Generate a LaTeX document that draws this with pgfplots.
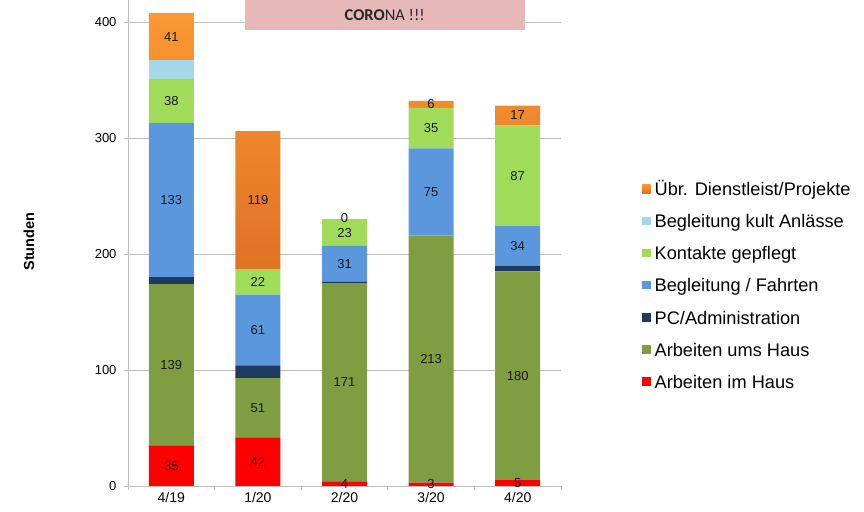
\documentclass[border=0pt]{standalone}
\usepackage{pgfplots}
\usepackage{pgfplotstable}
\pgfplotsset{compat=1.18}
\usepackage{fontspec}
\setmainfont{Liberation Sans}
\newfontfamily\carlito{Carlito}
\definecolor{cRed}{HTML}{FF0000}
\definecolor{cOlive}{HTML}{7F9D41}
\definecolor{cNavy}{HTML}{1F3A60}
\definecolor{cBlue}{HTML}{5B97DD}
\definecolor{cLGreen}{HTML}{A0DC5A}
\definecolor{cLBlue}{HTML}{A2D8E8}
\definecolor{cOrTop}{HTML}{FA9832}
\definecolor{cOrBot}{HTML}{E07224}
\definecolor{cPink}{HTML}{E6B9B8}
\definecolor{cGrid}{HTML}{BFBFBF}
\pgfplotstableread{
x red olive navy blue lgreen lblue orange
0 35 139 6 133 38 16 41
1 42 51 11 61 22 0 119
2 4 171 1 31 23 0 0
3 3 213 0 75 35 0 6
4 5 180 5 34 87 0 17
}\data
% label positions (segment middles) and texts
\pgfplotstableread{
x y lab
0 17.5 35
0 104.5 139
0 246.5 133
0 332 38
0 387.5 41
1 21 42
1 67.5 51
1 134.5 61
1 176 22
1 246.5 119
2 2 4
2 89.5 171
2 191.5 31
2 218.5 23
2 231 0
3 1.5 3
3 109.5 213
3 253.5 75
3 308.5 35
3 329 6
4 2.5 5
4 95 180
4 207 34
4 267.5 87
4 319.5 17
}\labels
\begin{document}
\begin{tikzpicture}
\useasboundingbox (0,0) rectangle (864pt,511pt);
\begin{axis}[
  at={(128pt,25pt)}, anchor=south west,
  scale only axis, width=433pt, height=486pt,
  ybar stacked, bar width=45pt,
  xmin=-0.5, xmax=4.5, ymin=0, ymax=419,
  xtick={-0.5,0.5,1.5,2.5,3.5,4.5}, xticklabels={},
  extra x ticks={0,1,2,3,4},
  extra x tick labels={4/19,1/20,2/20,3/20,4/20},
  extra x tick style={major tick length=0pt, xticklabel style={font=\fontsize{14}{16}\selectfont, text=black, yshift=-3pt}},
  ytick={0,100,200,300,400},
  ymajorgrids, major grid style={cGrid, line width=0.9pt},
  axis x line*=bottom, axis y line*=left,
  axis line style={-, draw=cGrid, line width=0.9pt},
  tick align=outside,
  tick style={cGrid, line width=0.9pt},
  major tick length=4pt,
  yticklabel style={font=\fontsize{13}{15}\selectfont, text=black, xshift=-4pt},
  /pgf/number format/assume math mode=true,
  ylabel={Stunden},
  ylabel style={font=\bfseries\fontsize{14.5}{16}\selectfont, at={(rel axis cs:-0.2286,0.503)}, anchor=center},
  legend style={draw=none, fill=none, inner sep=0pt, at={(rel axis cs:1.187,0.4085)}, anchor=west,
    font=\fontsize{18.2}{20}\selectfont, row sep=13.1pt,
    nodes={inner sep=1pt, text height=13pt, text depth=4pt},
    /tikz/every odd column/.append style={column sep=3pt}},
  legend cell align=left,
  reverse legend,
  legend image code/.code={\fill[#1] (0pt,-2pt) rectangle (8.5pt,6.5pt);},
]
\addplot[fill=cRed, draw=none] table[x=x,y=red]{\data};
\addlegendentry{Arbeiten im Haus}
\addplot[fill=cOlive, draw=none] table[x=x,y=olive]{\data};
\addlegendentry{Arbeiten ums Haus}
\addplot[fill=cNavy, draw=none] table[x=x,y=navy]{\data};
\addlegendentry{PC/Administration}
\addplot[fill=cBlue, draw=none] table[x=x,y=blue]{\data};
\addlegendentry{Begleitung / Fahrten}
\addplot[fill=cLGreen, draw=none] table[x=x,y=lgreen]{\data};
\addlegendentry{Kontakte gepflegt}
\addplot[fill=cLBlue, draw=none] table[x=x,y=lblue]{\data};
\addlegendentry{Begleitung kult Anlässe}
\addplot[top color=cOrTop, bottom color=cOrBot, draw=none] table[x=x,y=orange]{\data};
\addlegendentry{Übr. Dienstleist/Projekte}
\fill[cPink] (axis cs:0.85,393) rectangle (axis cs:4.08,419.5);
\coordinate (corona) at (axis cs:2.465,406);
\end{axis}
\begin{axis}[
  at={(128pt,25pt)}, anchor=south west,
  scale only axis, width=433pt, height=486pt,
  xmin=-0.5, xmax=4.5, ymin=0, ymax=419,
  hide axis, clip=false,
]
\addplot[draw=none, mark=none, nodes near coords, point meta=explicit symbolic,
  every node near coord/.append style={anchor=center, font=\fontsize{13}{15}\selectfont, text=black!90}]
  table[x=x, y=y, meta=lab]{\labels};
\end{axis}
\node[font=\carlito\fontsize{16.5}{18}\selectfont, text=black!85] at (corona) {\textbf{CORO}NA !!!};
\end{tikzpicture}
\end{document}
